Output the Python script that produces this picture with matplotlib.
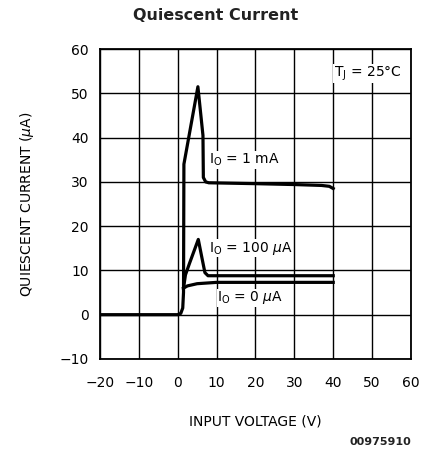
import matplotlib.pyplot as plt

# curves (input voltage V, quiescent current uA)
v_1ma = [-20, 0, 0.8, 1.3, 1.5, 1.6, 5.2, 6.5, 6.6, 7.2, 8, 20, 30, 37, 39, 40]
i_1ma = [0, 0, 0.3, 1.5, 5, 34, 51.5, 40.5, 31, 30, 29.8, 29.6, 29.4, 29.2, 29.0, 28.5]

v_100ua = [1.5, 2.0, 3.0, 5.3, 6.2, 7.0, 7.8, 40]
i_100ua = [6, 9, 11.5, 17, 13, 9.5, 8.8, 8.8]

v_0ua = [1.5, 2.5, 5, 10, 40]
i_0ua = [6, 6.5, 7.0, 7.3, 7.3]

x_ticks = [-20, -10, 0, 10, 20, 30, 40, 50, 60]
y_ticks = [-10, 0, 10, 20, 30, 40, 50, 60]

plt.rcParams['font.family'] = ['DejaVu Sans']

fig = plt.figure(figsize=(4.27, 4.59), dpi=100)
ax = fig.add_axes([0.234, 0.218, 0.7285, 0.675])

ax.plot(v_1ma, i_1ma, color="black", linewidth=2.3, solid_joinstyle="round")
ax.plot(v_100ua, i_100ua, color="black", linewidth=2.3, solid_joinstyle="round")
ax.plot(v_0ua, i_0ua, color="black", linewidth=2.3, solid_joinstyle="round")

ax.set_xlim(-20, 60)
ax.set_ylim(-10, 60)
ax.set_xticks(x_ticks)
ax.set_yticks(y_ticks)
ax.set_xticklabels(["\u221220", "\u221210", "0", "10", "20", "30", "40", "50", "60"])
ax.set_yticklabels(["\u221210", "0", "10", "20", "30", "40", "50", "60"])
ax.tick_params(length=0, labelsize=10, pad=8)
ax.tick_params(axis="x", pad=12)
ax.grid(True, color="black", linewidth=1.0)
for s in ax.spines.values():
    s.set_linewidth(1.3)

# curve labels
ax.text(8.0, 35, r"I$_{\rm O}$ = 1 mA", fontsize=10, va="center", ha="left",
        bbox=dict(facecolor="white", edgecolor="none", pad=0.5))
ax.text(8.0, 15, r"I$_{\rm O}$ = 100 $\mu$A", fontsize=10, va="center", ha="left",
        bbox=dict(facecolor="white", edgecolor="none", pad=0.5))
ax.text(10.2, 3.8, r"I$_{\rm O}$ = 0 $\mu$A", fontsize=10, va="center", ha="left",
        bbox=dict(facecolor="white", edgecolor="none", pad=0.5))
ax.text(40.2, 54.5, r"T$_{\rm J}$ = 25$\degree$C", fontsize=10, va="center", ha="left",
        bbox=dict(facecolor="white", edgecolor="none", pad=0.5))

ax.set_xlabel("INPUT VOLTAGE (V)", fontsize=10, labelpad=18)
ax.set_ylabel(r"QUIESCENT CURRENT ($\mu$A)", fontsize=10, labelpad=17)

fig.text(0.506, 0.967, "Quiescent Current", fontsize=11.5, fontweight="bold",
         ha="center", va="center", color="#222222")
fig.text(0.962, 0.038, "00975910", fontsize=8, fontweight="bold", ha="right",
         va="center", color="#222222")

fig.savefig("out.png", dpi=100)
